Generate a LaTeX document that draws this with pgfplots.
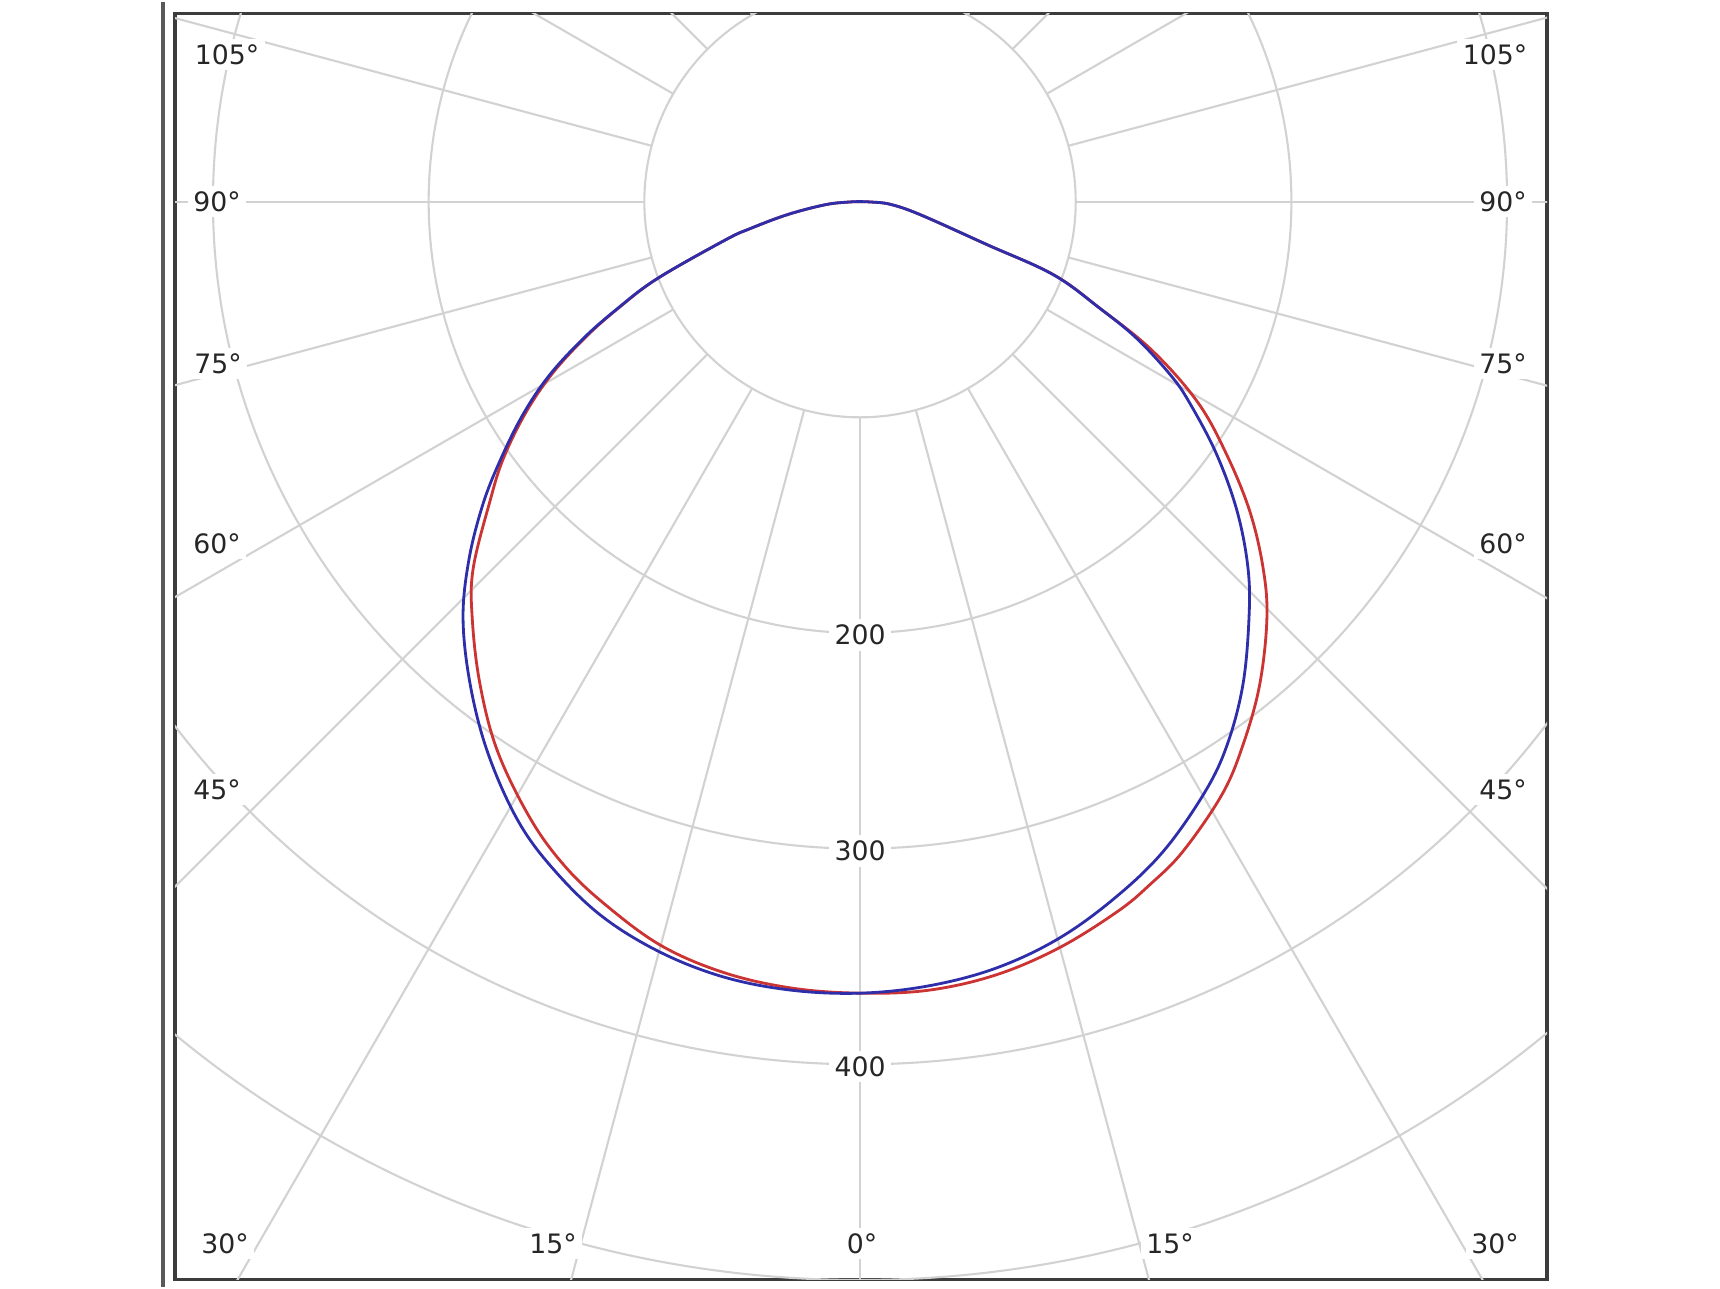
\documentclass[border=0pt]{standalone}
\usepackage{fontspec}
\setmainfont{DejaVu Sans}
\usepackage{pgfplots}
\pgfplotsset{compat=1.18}
\usepgfplotslibrary{polar}
\usetikzlibrary{calc}
\definecolor{gridc}{HTML}{D2D2D2}
\definecolor{framec}{HTML}{3C3C3C}
\definecolor{cred}{HTML}{CC3333}
\definecolor{cblue}{HTML}{2E2EAA}
\tikzset{lbl/.style={fill=white, inner sep=1.6pt, text=black!85, font=\fontsize{7.6}{9}\selectfont}}

\begin{document}
\begin{tikzpicture}
\begin{axis}[
  scale only axis,
  width=137.2mm, height=126.6mm,
  xmin=-317.6, xmax=318.5, ymin=-499.8, ymax=87.2,
  axis line style={draw=framec, line width=0.9pt},
  ticks=none,
]
% grid: circles every 100 cd, spokes every 15 deg starting at r=100
\pgfplotsinvokeforeach{100,200,300,400,500}{
  \draw[gridc, line width=0.6pt] (axis cs:0,0) circle[radius=#1];
}
\pgfplotsinvokeforeach{0,15,...,345}{
  \draw[gridc, line width=0.6pt] (axis cs:{100*cos(#1)},{100*sin(#1)}) -- (axis cs:{800*cos(#1)},{800*sin(#1)});
}

% angle labels
\node[lbl] at (axis cs:-293.5,68.2) {105°};
\node[lbl] at (axis cs:294.4,68.2) {105°};
\node[lbl] at (axis cs:-298.1,0) {90°};
\node[lbl] at (axis cs:298.1,0) {90°};
\node[lbl] at (axis cs:-297.6,-75.1) {75°};
\node[lbl] at (axis cs:298.1,-75.1) {75°};
\node[lbl] at (axis cs:-298.1,-158.6) {60°};
\node[lbl] at (axis cs:298.1,-158.6) {60°};
\node[lbl] at (axis cs:-298.1,-272.6) {45°};
\node[lbl] at (axis cs:298.1,-272.6) {45°};
\node[lbl] at (axis cs:-294.4,-483.1) {30°};
\node[lbl] at (axis cs:-142.3,-483.1) {15°};
\node[lbl] at (axis cs:0.9,-483.1) {0°};
\node[lbl] at (axis cs:143.7,-483.1) {15°};
\node[lbl] at (axis cs:294.4,-483.1) {30°};
% intensity labels
\node[lbl] at (axis cs:0,-201) {200};
\node[lbl] at (axis cs:0,-301) {300};
\node[lbl] at (axis cs:0,-401) {400};

% red curve (angle in axis polar degrees, intensity in cd)
\addplot[cred, line width=0.8pt, smooth, tension=0.6, data cs=polar] coordinates {
(-180,0) (-178,5) (-175,16) (-169.9,34) (-166.2,52.5) (-164.1,65)
(-159.2,100.5) (-156.2,122.5) (-153.7,142) (-150.8,163.5) (-147.7,183.5)
(-144.2,204) (-141,220.8) (-136.5,247.3) (-132.9,264.1) (-128.2,284.9)
(-123.4,305.3) (-118.1,324.4) (-114,337) (-110,346.5) (-105,357)
(-100,363) (-95,366) (-90,367) (-85,367) (-80,364) (-75,358) (-70,350)
(-67,344) (-63.6,336.5) (-58.6,322.1) (-54.8,308.1) (-50.4,290.7)
(-45.7,270.1) (-42.3,252.7) (-38.5,231.0) (-34.6,206.5) (-30.7,182)
(-27,152) (-24,122) (-20.7,96) (-18.7,62) (-12.2,28.5) (-5,14) (-2,5) (0,0)
};

% blue curve
\addplot[cblue, line width=0.8pt, smooth, tension=0.6, data cs=polar] coordinates {
(-180,0) (-178,5) (-175,16) (-169.9,34) (-166.2,52.5) (-164.1,65)
(-159.2,100.7) (-156.2,123) (-153.7,143) (-150.8,165) (-147.7,185)
(-144.2,206) (-141.2,224.5) (-137.5,246) (-133.6,266.9) (-128.9,287.8)
(-124.1,308.1) (-119.1,327.3) (-114.9,340) (-110,352) (-105,360)
(-100,365) (-95,367) (-90,367) (-85,365) (-80,361) (-75,354) (-70,344)
(-65,332.5) (-59.7,317) (-55.9,303.8) (-51.6,285.8) (-47,264.4)
(-43.4,247.6) (-39.4,226.3) (-35.3,202.5) (-31.4,179) (-29.2,165)
(-26.3,143) (-24,121.8) (-20.7,95.7) (-18.7,62.2) (-12.2,28.5) (-5,14) (-2,5) (0,0)
};
\end{axis}
\draw[framec!85, line width=0.9pt] ($(current axis.south west)+(-1.2mm,-0.7mm)$) -- ($(current axis.north west)+(-1.2mm,1.2mm)$);
\path ($(current axis.south west)+(-17.5mm,-0.7mm)$) rectangle ($(current axis.north east)+(17.3mm,1.2mm)$);
\end{tikzpicture}
\end{document}
